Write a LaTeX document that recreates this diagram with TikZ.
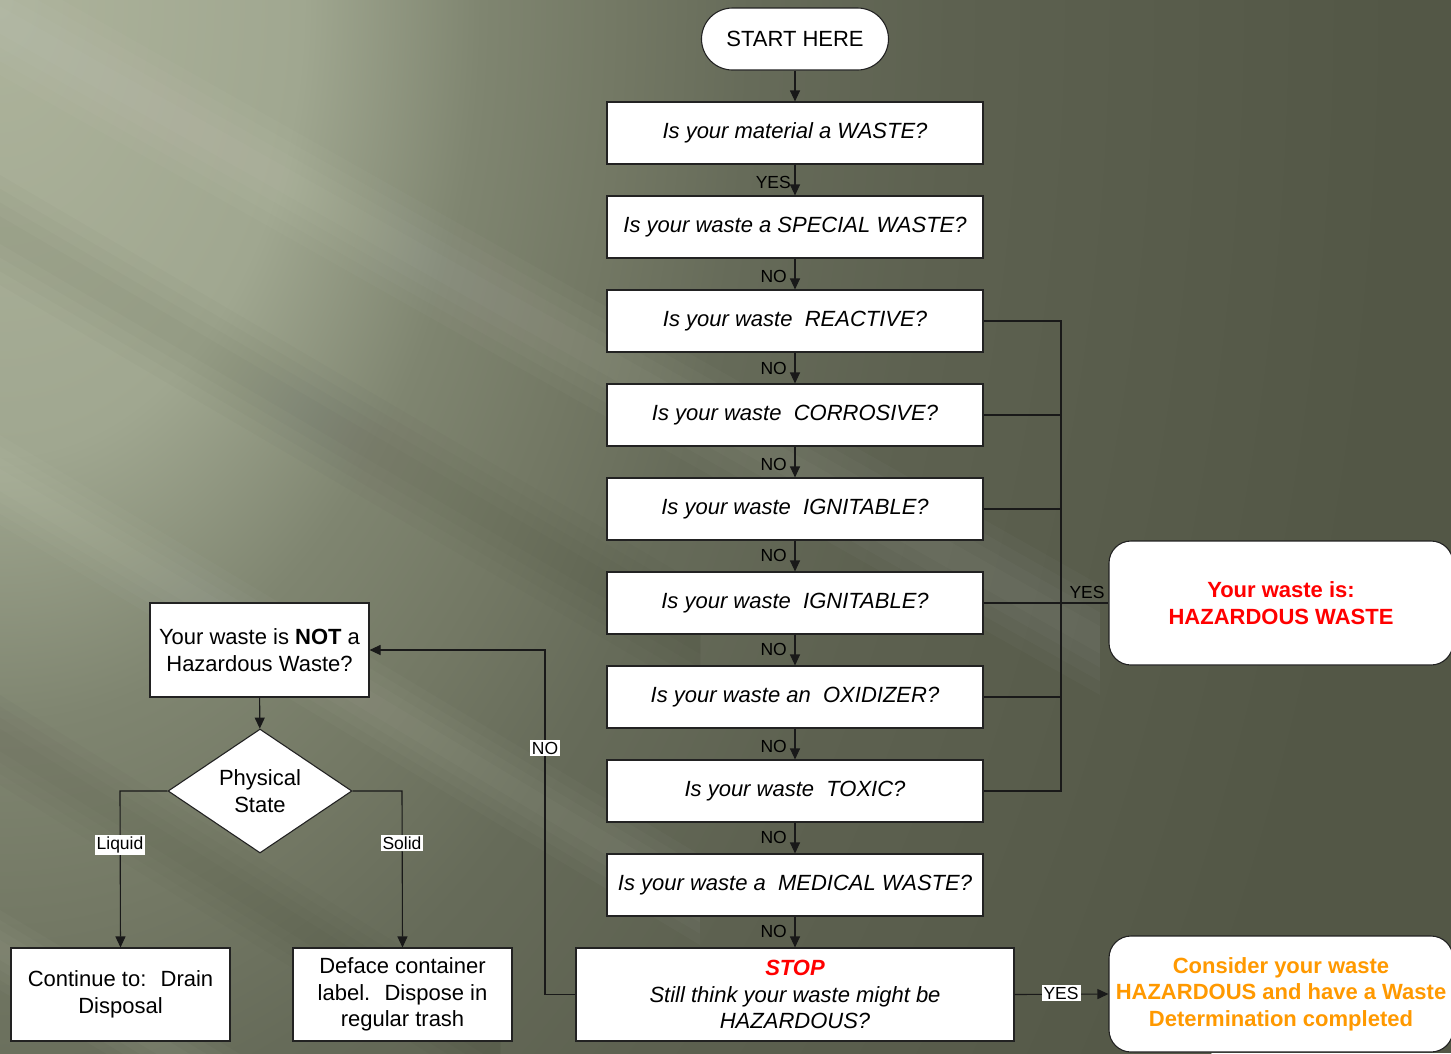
\documentclass[tikz,border=0pt]{standalone}
\usepackage{fontspec}
\setmainfont{Liberation Sans}
\usetikzlibrary{arrows.meta,shapes.geometric,calc}
\definecolor{bg0}{HTML}{ADB39B}
\definecolor{bg1}{HTML}{A0A790}
\definecolor{bg2}{HTML}{7F8570}
\definecolor{bg3}{HTML}{737864}
\definecolor{bg4}{HTML}{666B59}
\definecolor{bg5}{HTML}{5D6150}
\definecolor{bg6}{HTML}{535746}
\definecolor{hazred}{HTML}{FF0000}
\definecolor{hazorange}{HTML}{FF9900}
\definecolor{edge}{HTML}{222222}
\pgfdeclareradialshading{bgrad}{\pgfpoint{0bp}{0bp}}{color(0bp)=(bg0); color(5.4bp)=(bg1); color(8.6bp)=(bg2); color(11.1bp)=(bg3); color(13.4bp)=(bg4); color(17bp)=(bg5); color(25bp)=(bg6); color(50bp)=(bg6)}
\tikzset{
  box/.style={draw=edge, line width=1.1pt, fill=white, inner sep=0pt, align=center,
              font=\fontsize{22}{26.5}\selectfont},
  qbox/.style={box, minimum width=376pt, minimum height=62pt, font=\fontsize{22}{26.5}\selectfont\itshape},
  endbox/.style={box, rounded corners=22pt, minimum width=344pt, font=\fontsize{22}{26.5}\selectfont\bfseries},
  lbl/.style={inner sep=1pt, font=\fontsize{17.5}{19}\selectfont, text=black},
  wlbl/.style={lbl, fill=white, inner sep=2pt},
  conn/.style={draw=black!90, line width=1.1pt},
  arr/.style={conn, -{Triangle[length=11pt,width=10pt]}},
}
\newcommand{\softband}[5]{% x1 y1 x2 y2 halfwidth
  \foreach \k in {0.25,0.5,0.75,1} {
    \fill[white, opacity=0.022] (#1,#2-#5*\k) -- (#3,#4-#5*\k) -- (#3,#4+#5*\k) -- (#1,#2+#5*\k) -- cycle;
  }}
\newcommand{\darkband}[5]{%
  \foreach \k in {0.25,0.5,0.75,1} {
    \fill[black, opacity=0.015] (#1,#2-#5*\k) -- (#3,#4-#5*\k) -- (#3,#4+#5*\k) -- (#1,#2+#5*\k) -- cycle;
  }}
\begin{document}
\begin{tikzpicture}[x=1pt,y=-1pt]
\useasboundingbox (0,0) rectangle (1451,1053);
\clip (0,0) rectangle (1451,1053);
% background
\fill[bg6] (0,0) rectangle (1451,1053);
\shade[shading=bgrad] (0,0) ellipse [x radius=1400, y radius=2100];
\softband{0}{20}{1100}{640}{55}
\softband{0}{480}{700}{900}{45}
\softband{0}{950}{250}{1100}{40}
\darkband{0}{230}{700}{640}{55}
\darkband{0}{740}{500}{1053}{45}

% main column
\node[box, rounded corners=31pt, minimum width=187pt, minimum height=62pt] (start) at (795,39) {START HERE};
\node[qbox] (q1) at (795,133) {Is your material a WASTE?};
\node[qbox] (q2) at (795,227) {Is your waste a SPECIAL WASTE?};
\node[qbox] (q3) at (795,321) {Is your waste~ REACTIVE?};
\node[qbox] (q4) at (795,415) {Is your waste~ CORROSIVE?};
\node[qbox] (q5) at (795,509) {Is your waste~ IGNITABLE?};
\node[qbox] (q6) at (795,603) {Is your waste~ IGNITABLE?};
\node[qbox] (q7) at (795,697) {Is your waste an~ OXIDIZER?};
\node[qbox] (q8) at (795,791) {Is your waste~ TOXIC?};
\node[qbox] (q9) at (795,885) {Is your waste a~ MEDICAL WASTE?};
\node[box, minimum width=438pt, minimum height=93pt, font=\fontsize{22}{26.5}\selectfont\itshape] (stop) at (795,994.5)
  {{\color{hazred}\bfseries STOP}\\Still think your waste might be\\HAZARDOUS?};

\node[endbox, minimum height=124pt, text=hazred] (haz) at (1281,603) {Your waste is:\\HAZARDOUS WASTE};
\node[endbox, minimum height=116pt, text=hazorange] (cons) at (1281,994) {Consider your waste\\HAZARDOUS and have a Waste\\Determination completed};

% left part
\node[box, minimum width=219pt, minimum height=94pt] (notbox) at (259.5,650) {Your waste is \textbf{NOT} a\\Hazardous Waste?};
\node[box, diamond, aspect=1.48, minimum width=184pt, minimum height=124pt, inner sep=0pt] (phys) at (260,791) {Physical\\State};
\node[box, minimum width=219pt, minimum height=93pt] (drain) at (120.5,994.5) {Continue to:~ Drain\\Disposal};
\node[box, minimum width=219pt, minimum height=93pt] (deface) at (402.5,994.5) {Deface container\\label.~ Dispose in\\regular trash};

% vertical arrows
\draw[arr] (start) -- (q1);
\draw[arr] (q1) -- (q2);
\draw[arr] (q2) -- (q3);
\draw[arr] (q3) -- (q4);
\draw[arr] (q4) -- (q5);
\draw[arr] (q5) -- (q6);
\draw[arr] (q6) -- (q7);
\draw[arr] (q7) -- (q8);
\draw[arr] (q8) -- (q9);
\draw[arr] (q9) -- (stop);
\node[lbl, anchor=east] (l1) at (792,182) {YES};
\node[lbl, anchor=east] (l2) at (788,276) {NO};
\node[lbl, anchor=east] (l3) at (788,368) {NO};
\node[lbl, anchor=east] (l4) at (788,464) {NO};
\node[lbl, anchor=east] (l5) at (788,555) {NO};
\node[lbl, anchor=east] (l6) at (788,649) {NO};
\node[lbl, anchor=east] (l7) at (788,746) {NO};
\node[lbl, anchor=east] (l8) at (788,837) {NO};
\node[lbl, anchor=east] (l9) at (788,931) {NO};

% YES bus
\coordinate (bus3) at (1061,321);
\coordinate (bus8) at (1061,791);
\draw[conn] (q3.east) -- (bus3) -- (bus8) -- (q8.east);
\draw[conn] (q4.east) -- (1061,415);
\draw[conn] (q5.east) -- (1061,509);
\draw[conn] (q7.east) -- (1061,697);
\draw[conn, line width=1.6pt] (q6.east) -- (haz.west);
\node[lbl, anchor=south] (lyes) at (1087,600) {YES};

% STOP -> consider
\draw[arr] (stop.east) -- (cons.west);
\node[wlbl] (lyes2) at (1061,993) {YES};

% STOP -> NOT
\coordinate (c1) at (545,994.5);
\coordinate (c2) at (545,650);
\draw[arr] (stop.west) -- (c1) -- (c2) -- (notbox.east);
\node[wlbl] (lno) at (545,748) {NO};

% NOT -> diamond
\draw[arr] (notbox) -- (phys);
\coordinate (lq) at (120,791);
\coordinate (sd) at (402,791);
\draw[arr] (phys.west) -- (lq) -- (drain.north);
\draw[arr] (phys.east) -- (sd) -- (deface.north);
\node[wlbl] (lliq) at (120,845) {Liquid};
\node[wlbl] (lsol) at (402,843) {Solid};
\end{tikzpicture}
\end{document}
